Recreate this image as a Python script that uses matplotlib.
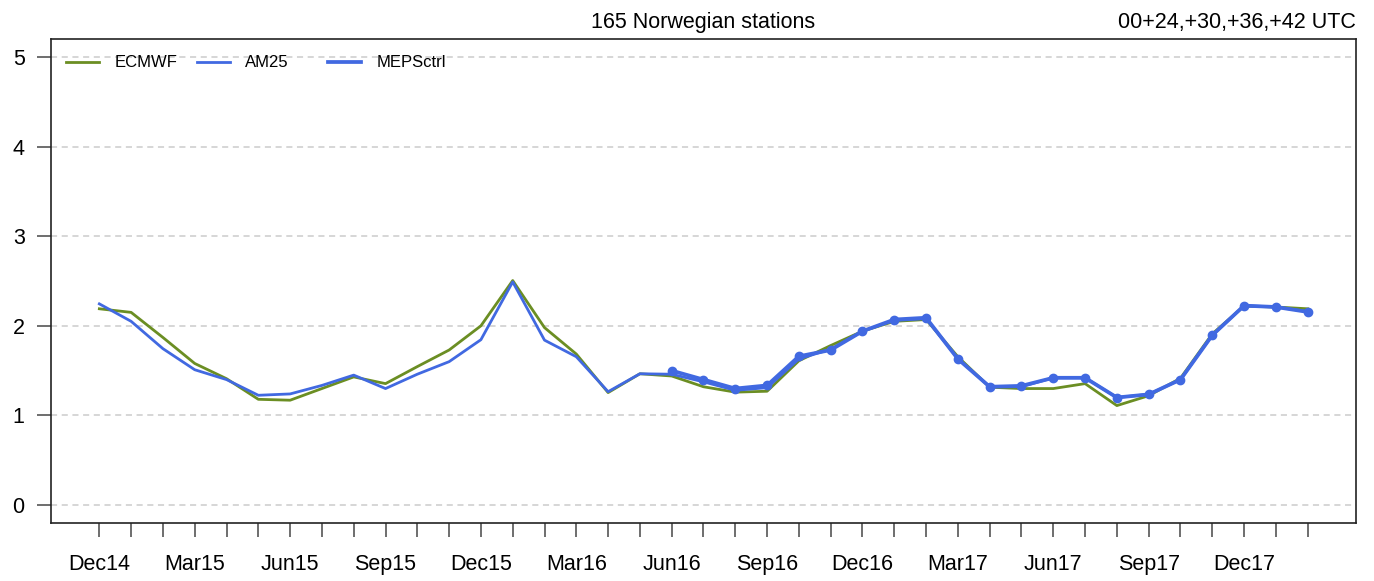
import numpy as np
import matplotlib
matplotlib.use("Agg")
import matplotlib.pyplot as plt
from matplotlib.legend import Legend

plt.rcParams['font.family'] = ['Liberation Sans', 'DejaVu Sans']

# month index 0 = Dec14 ... 38 = Feb18
n_months = 39
tick_labels = ["Dec14", "Mar15", "Jun15", "Sep15", "Dec15", "Mar16", "Jun16",
               "Sep16", "Dec16", "Mar17", "Jun17", "Sep17", "Dec17"]

ecmwf = [2.19, 2.15, 1.87, 1.58, 1.41, 1.18, 1.17, 1.30, 1.43, 1.355,
         1.545, 1.73, 2.00, 2.505, 1.98, 1.685, 1.255, 1.465, 1.44, 1.32,
         1.26, 1.27, 1.61, 1.78, 1.94, 2.05, 2.07, 1.655, 1.315, 1.30,
         1.30, 1.355, 1.11, 1.22, 1.415, 1.91, 2.22, 2.21, 2.19]
am25 = [2.245, 2.05, 1.745, 1.51, 1.40, 1.225, 1.24, 1.335, 1.45, 1.30,
        1.46, 1.60, 1.845, 2.49, 1.84, 1.655, 1.265, 1.465, 1.46, 1.375,
        1.28, 1.31, 1.63, 1.74, 1.94, 2.06, 2.08, 1.635, 1.32, 1.32,
        1.42, 1.42, 1.20, 1.235, 1.40, 1.895, 2.225, 2.21, 2.16]
meps_start = 18  # Jun16
mepsctrl = [1.50, 1.40, 1.30, 1.335, 1.66, 1.73, 1.94, 2.07, 2.09, 1.63,
            1.32, 1.33, 1.42, 1.42, 1.20, 1.235, 1.40, 1.895, 2.225, 2.21,
            2.155]

x = np.arange(n_months)
x_meps = np.arange(meps_start, meps_start + len(mepsctrl))

fig = plt.figure(figsize=(13.74, 5.81), dpi=100)
ax = fig.add_axes([51 / 1374, 58 / 581, 1305 / 1374, 484 / 581])

for yv in range(6):
    ax.axhline(yv, color='#cccccc', lw=1.1, ls=(0, (4, 3)), zorder=0)

l1, = ax.plot(x, ecmwf, color='#6b8e23', lw=2.0, label='ECMWF', zorder=2)
l2, = ax.plot(x, am25, color='#4169e1', lw=2.0, label='AM25', zorder=3)
l3, = ax.plot(x_meps, mepsctrl, color='#4169e1', lw=2.7, marker='o', ms=6,
              label='MEPSctrl', zorder=4)

# R-style legend: equal column widths
for i, h in enumerate([l1, l2, l3]):
    lg = Legend(ax, [h], [h.get_label()], loc='upper left', frameon=False,
                fontsize=12, handlelength=1.95, handletextpad=0.95,
                borderpad=0, borderaxespad=0,
                bbox_to_anchor=((15 + 131 * i) / 1305, 0.966))
    for lh in lg.legend_handles:
        lh.set_marker('')
    ax.add_artist(lg)

ax.set_xlim(-1.52, 39.52)
ax.set_ylim(-0.2, 5.2)
ax.set_xticks(x)
ax.set_xticklabels([tick_labels[i // 3] if i % 3 == 0 else '' for i in x])
ax.set_yticks(range(6))
ax.tick_params(axis='both', labelsize=15.5, length=10, width=1.2,
               color='#555555', pad=9)
ax.tick_params(axis='x', pad=12)
for s in ax.spines.values():
    s.set_linewidth(1.2)
    s.set_color('#222222')

ax.set_title('165 Norwegian stations', fontsize=15.5, loc='center', pad=8)
ax.set_title('00+24,+30,+36,+42 UTC', fontsize=15.5, loc='right', pad=8)

fig.savefig('out.png', dpi=100)
